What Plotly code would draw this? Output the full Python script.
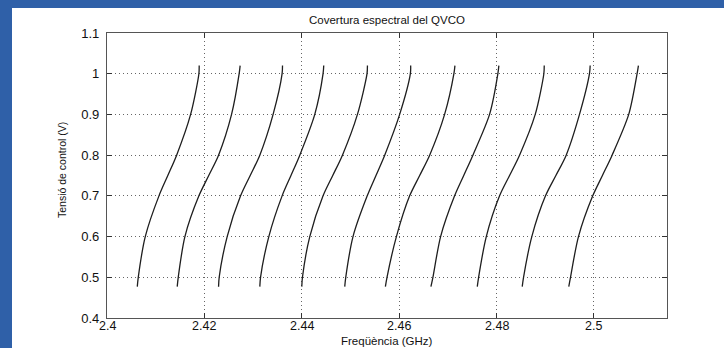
import plotly.graph_objects as go

# Control-voltage levels sampled along each tuning curve (V)
voltages = [0.477, 0.5, 0.6, 0.7, 0.75, 0.8, 0.9, 1.0, 1.02]

# Frequency (GHz) of each of the 11 tuning curves at the voltage levels above
curve_freqs = [
    [2.40622, 2.40642, 2.40786, 2.41067, 2.41249, 2.41430, 2.41717, 2.41887, 2.41893],
    [2.41442, 2.41463, 2.41600, 2.41887, 2.42089, 2.42291, 2.42558, 2.42714, 2.42734],
    [2.42291, 2.42304, 2.42468, 2.42743, 2.42941, 2.43138, 2.43411, 2.43596, 2.43604],
    [2.43138, 2.43153, 2.43323, 2.43596, 2.43778, 2.43959, 2.44267, 2.44437, 2.44451],
    [2.44000, 2.44014, 2.44164, 2.44437, 2.44636, 2.44835, 2.45143, 2.45340, 2.45348],
    [2.44882, 2.44903, 2.45052, 2.45344, 2.45524, 2.45703, 2.46010, 2.46230, 2.46236],
    [2.45717, 2.45750, 2.45943, 2.46215, 2.46421, 2.46626, 2.46933, 2.47124, 2.47145],
    [2.46652, 2.46693, 2.46851, 2.47138, 2.47326, 2.47514, 2.47856, 2.48027, 2.48047],
    [2.47604, 2.47631, 2.47789, 2.48062, 2.48267, 2.48472, 2.48794, 2.48971, 2.48979],
    [2.48527, 2.48554, 2.48724, 2.49005, 2.49218, 2.49430, 2.49703, 2.49908, 2.49922],
    [2.49483, 2.49518, 2.49682, 2.49975, 2.50174, 2.50373, 2.50714, 2.50886, 2.50913],
]

x_ticks = [2.4, 2.42, 2.44, 2.46, 2.48, 2.5]
x_tick_labels = ["2.4", "2.42", "2.44", "2.46", "2.48", "2.5"]
y_ticks = [0.4, 0.5, 0.6, 0.7, 0.8, 0.9, 1.0, 1.1]
y_tick_labels = ["0.4", "0.5", "0.6", "0.7", "0.8", "0.9", "1", "1.1"]

title_text = "Covertura espectral del QVCO"
x_title = "Freqüència (GHz)"
y_title = "Tensió de control (V)"

FONT = "Liberation Sans, Arial, Helvetica, sans-serif"

fig = go.Figure()
for freqs in curve_freqs:
    fig.add_trace(go.Scatter(
        x=freqs, y=voltages, mode="lines",
        line=dict(color="#1e1e1e", width=1.3, shape="spline", smoothing=0.8),
        showlegend=False, hoverinfo="skip",
    ))

W, H = 724, 348
L, R, T, B = 107, 57, 33, 30
pw, ph = W - L - R, H - T - B

def px_x(px):
    return (px - L) / pw

def px_y(py):
    return (H - B - py) / ph

blue = "#2f60a8"
grid_dash = "1px,3px"

# x tick labels as text placed at the tick values of the x axis
x_label_annotations = [
    dict(text=lab, xref="x", yref="paper", x=val, y=px_y(325.5),
         xanchor="center", yanchor="middle", showarrow=False,
         borderpad=0, font=dict(size=12.5))
    for val, lab in zip(x_ticks, x_tick_labels)
]

fig.update_layout(
    width=W, height=H,
    margin=dict(l=L, r=R, t=T, b=B, autoexpand=False),
    paper_bgcolor="white", plot_bgcolor="white",
    font=dict(family=FONT, size=12, color="#111"),
    title=dict(text=title_text, x=(L + pw / 2) / W, xanchor="center",
               y=1 - 20 / H, yanchor="middle", yref="container",
               font=dict(size=11.5, color="#111")),
    xaxis=dict(
        range=[2.4, 2.515], tickvals=x_ticks, showticklabels=False,
        showgrid=True, gridcolor="#666", griddash=grid_dash, gridwidth=1,
        ticks="inside", ticklen=5, tickcolor="#333", tickwidth=1,
        showline=True, mirror="ticks", linecolor="#555", linewidth=1.2,
        zeroline=False, automargin=False,
    ),
    yaxis=dict(
        range=[0.4, 1.1], tickvals=y_ticks, ticktext=y_tick_labels,
        showgrid=True, gridcolor="#666", griddash=grid_dash, gridwidth=1,
        ticks="inside", ticklen=5, tickcolor="#333", tickwidth=1,
        showline=True, mirror="ticks", linecolor="#555", linewidth=1.2,
        zeroline=False, tickfont=dict(size=13), ticklabelstandoff=4,
        automargin=False,
    ),
    annotations=x_label_annotations + [
        dict(text=x_title, xref="paper", yref="paper",
             x=0.5, y=px_y(341), xanchor="center", yanchor="middle",
             showarrow=False, borderpad=0, font=dict(size=11.5)),
        dict(text=y_title, xref="paper", yref="paper",
             x=px_x(62), y=px_y(170), xanchor="center", yanchor="middle",
             textangle=-90, showarrow=False, font=dict(size=10.5)),
    ],
    shapes=[
        dict(type="rect", xref="paper", yref="paper",
             x0=px_x(0), x1=px_x(12), y0=px_y(H), y1=px_y(0),
             fillcolor=blue, line=dict(width=0), layer="above"),
        dict(type="rect", xref="paper", yref="paper",
             x0=px_x(0), x1=px_x(W), y0=px_y(8), y1=px_y(0),
             fillcolor=blue, line=dict(width=0), layer="above"),
    ],
)

fig.write_html("out.html")
